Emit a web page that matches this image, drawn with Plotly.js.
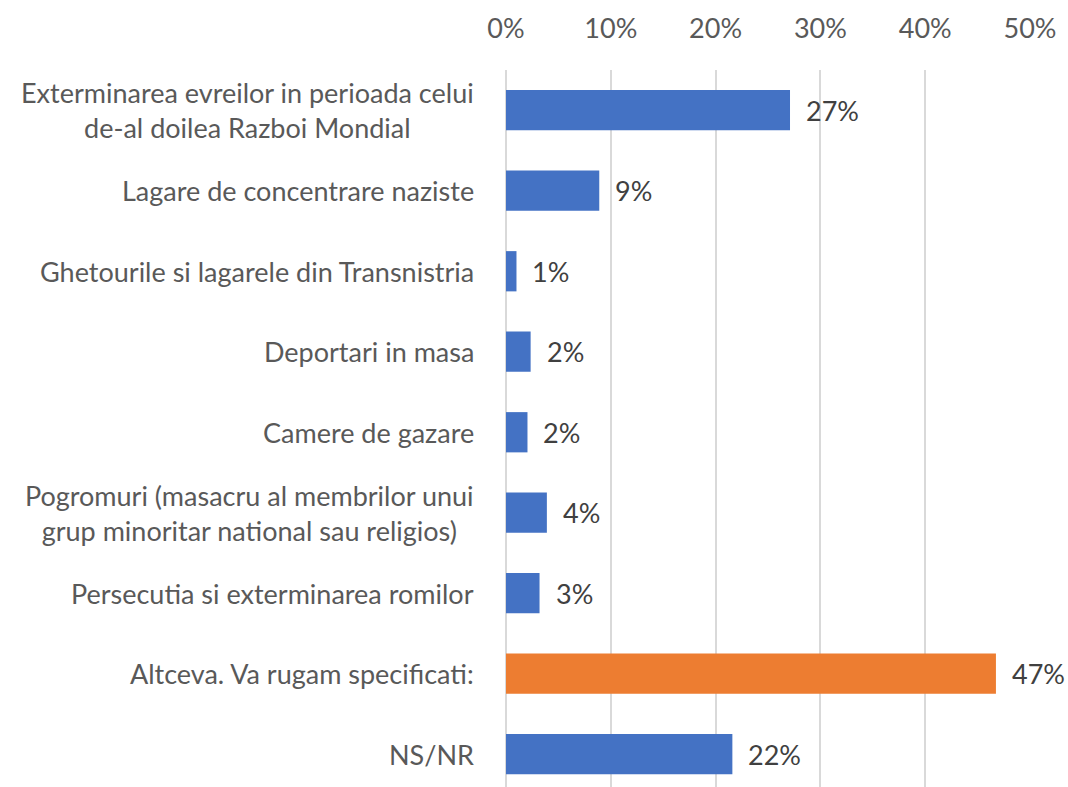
<!DOCTYPE html>
<html>
<head>
<meta charset="utf-8">
<script src="https://cdn.plot.ly/plotly-3.0.1.min.js"></script>
<style>html,body{margin:0;padding:0;background:#fff;}#chart{width:1068px;height:787px;}</style>
</head>
<body>
<div id="chart"></div>
<script>
const categories = [
  "Exterminarea evreilor in perioada celui<br>de-al doilea Razboi Mondial",
  "Lagare de concentrare naziste",
  "Ghetourile si lagarele din Transnistria",
  "Deportari in masa",
  "Camere de gazare",
  "Pogromuri (masacru al membrilor unui<br>grup minoritar national sau religios)",
  "Persecutia si exterminarea romilor",
  "Altceva. Va rugam specificati:",
  "NS/NR"
];
const values = [27.1, 8.9, 1.0, 2.35, 2.05, 3.9, 3.2, 46.75, 21.6];
const dataLabels = ["27%", "9%", "1%", "2%", "2%", "4%", "3%", "47%", "22%"];
const highlighted = "Altceva. Va rugam specificati:";
const xTicks = [0, 10, 20, 30, 40, 50];

const BLUE = "#4472c4", ORANGE = "#ed7d31";
const FONT = "Lato, 'Open Sans', sans-serif";
const colors = categories.map(c => c === highlighted ? ORANGE : BLUE);
const ids = categories.map((c, i) => "c" + i);

const trace = {
  type: "bar",
  orientation: "h",
  y: ids,
  x: values,
  width: 0.5,
  marker: {color: colors},
  hoverinfo: "skip"
};

const annotations = [];
categories.forEach((c, i) => {
  annotations.push({
    xref: "paper", yref: "y", x: 0, y: ids[i], xanchor: "right", yanchor: "middle",
    xshift: -30, text: c, showarrow: false, align: "center",
    font: {family: FONT, size: 27, color: "#595959"}
  });
  annotations.push({
    xref: "x", yref: "y", x: values[i], y: ids[i], xanchor: "left", yanchor: "middle",
    xshift: 14, text: dataLabels[i], showarrow: false,
    font: {family: FONT, size: 27, color: "#404040"}
  });
});

const layout = {
  width: 1068, height: 787,
  margin: {l: 506, r: 38, t: 70, b: 0},
  paper_bgcolor: "#ffffff", plot_bgcolor: "#ffffff",
  showlegend: false,
  font: {family: FONT},
  xaxis: {
    side: "top", range: [0, 50], tickvals: xTicks, ticktext: xTicks.map(t => t + "%"),
    showgrid: true, gridcolor: "#d9d9d9", gridwidth: 2,
    zeroline: true, zerolinecolor: "#d9d9d9", zerolinewidth: 2,
    showline: false, ticks: "",
    ticklabelstandoff: 26,
    tickfont: {family: FONT, size: 27, color: "#595959"}
  },
  yaxis: {
    type: "category", categoryarray: ids, categoryorder: "array",
    range: [8.407, -0.5], autorange: false,
    showticklabels: false, showgrid: false, zeroline: false, showline: false, ticks: ""
  },
  annotations: annotations
};

Plotly.newPlot("chart", [trace], layout, {displayModeBar: false, staticPlot: true});
</script>
</body>
</html>
